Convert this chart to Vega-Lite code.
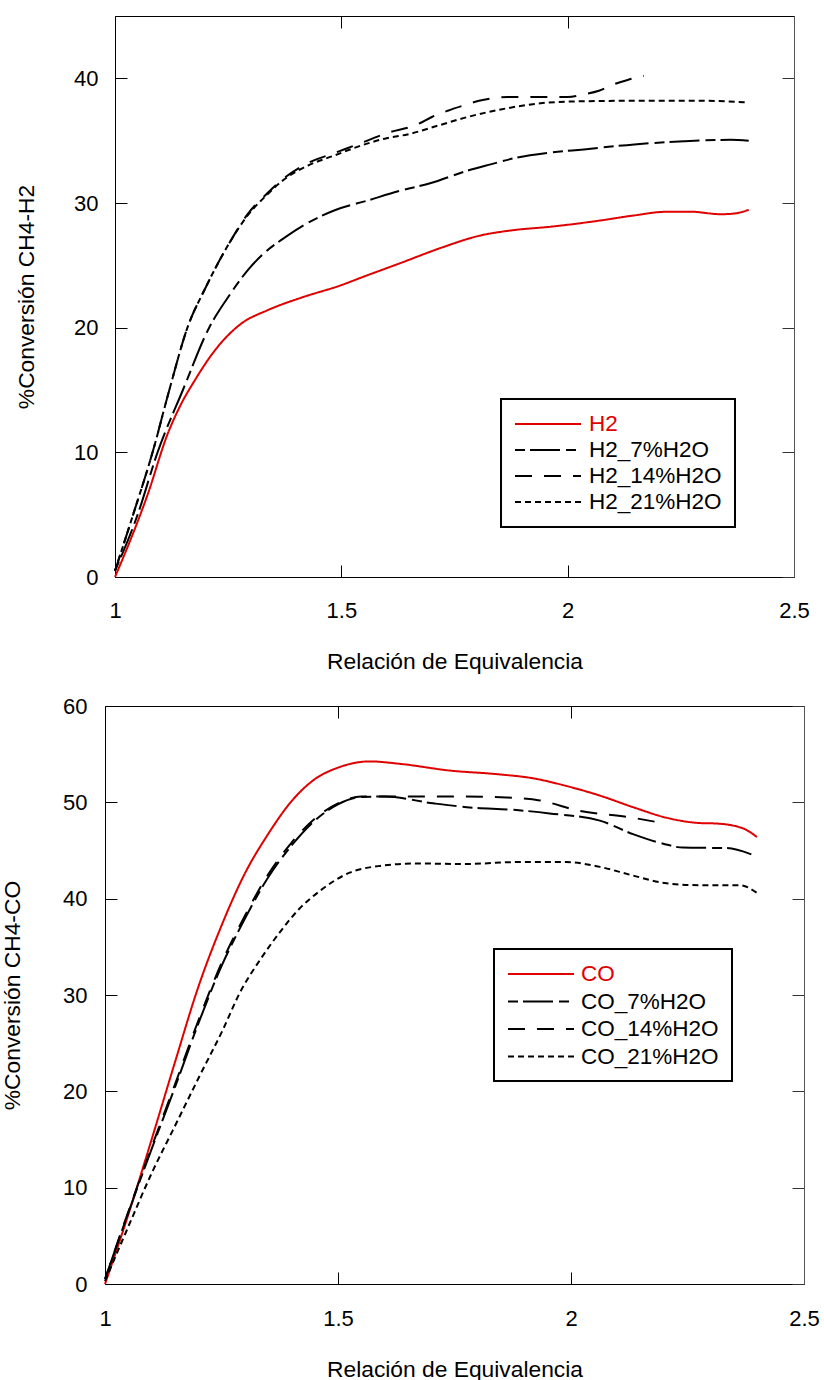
{
  "$schema": "https://vega.github.io/schema/vega-lite/v6.json",
  "padding": {"left": 1, "top": 15, "right": 5, "bottom": 0},
  "config": {
    "font": "Liberation Sans",
    "view": {"stroke": null},
    "axis": {
      "grid": false,
      "domainColor": "#000",
      "tickColor": "#000",
      "labelColor": "#000",
      "titleColor": "#000",
      "titleFontWeight": "normal",
      "labelFontSize": 22,
      "titleFontSize": 22.8,
      "tickSize": -12,
      "labelFont": "Liberation Sans",
      "titleFont": "Liberation Sans"
    },
    "legend": {"labelFont": "Liberation Sans"}
  },
  "bounds": "flush",
  "center": true,
  "spacing": 129,
  "resolve": {
    "scale": {"color": "independent", "strokeDash": "independent"},
    "legend": {"color": "independent", "strokeDash": "independent"}
  },
  "datasets": {
    "top": [
      {"x": 1, "y": 0, "serie": "H2"},
      {"x": 1.03, "y": 2.6, "serie": "H2"},
      {"x": 1.072, "y": 6.6, "serie": "H2"},
      {"x": 1.116, "y": 11.45, "serie": "H2"},
      {"x": 1.145, "y": 13.8, "serie": "H2"},
      {"x": 1.175, "y": 15.7, "serie": "H2"},
      {"x": 1.219, "y": 18.1, "serie": "H2"},
      {"x": 1.25, "y": 19.4, "serie": "H2"},
      {"x": 1.278, "y": 20.3, "serie": "H2"},
      {"x": 1.337, "y": 21.4, "serie": "H2"},
      {"x": 1.411, "y": 22.4, "serie": "H2"},
      {"x": 1.499, "y": 23.4, "serie": "H2"},
      {"x": 1.55, "y": 24.1, "serie": "H2"},
      {"x": 1.632, "y": 25.2, "serie": "H2"},
      {"x": 1.72, "y": 26.4, "serie": "H2"},
      {"x": 1.808, "y": 27.4, "serie": "H2"},
      {"x": 1.875, "y": 27.8, "serie": "H2"},
      {"x": 1.963, "y": 28.1, "serie": "H2"},
      {"x": 2.073, "y": 28.6, "serie": "H2"},
      {"x": 2.146, "y": 29.0, "serie": "H2"},
      {"x": 2.22, "y": 29.3, "serie": "H2"},
      {"x": 2.272, "y": 29.3, "serie": "H2"},
      {"x": 2.338, "y": 29.1, "serie": "H2"},
      {"x": 2.367, "y": 29.15, "serie": "H2"},
      {"x": 2.4, "y": 29.45, "serie": "H2"},

      {"x": 1, "y": 0.5, "serie": "H2_7%H2O"},
      {"x": 1.05, "y": 5, "serie": "H2_7%H2O"},
      {"x": 1.094, "y": 10, "serie": "H2_7%H2O"},
      {"x": 1.15, "y": 15, "serie": "H2_7%H2O"},
      {"x": 1.208, "y": 20, "serie": "H2_7%H2O"},
      {"x": 1.249, "y": 22.4, "serie": "H2_7%H2O"},
      {"x": 1.293, "y": 24.6, "serie": "H2_7%H2O"},
      {"x": 1.33, "y": 26.0, "serie": "H2_7%H2O"},
      {"x": 1.374, "y": 27.2, "serie": "H2_7%H2O"},
      {"x": 1.426, "y": 28.4, "serie": "H2_7%H2O"},
      {"x": 1.484, "y": 29.4, "serie": "H2_7%H2O"},
      {"x": 1.558, "y": 30.2, "serie": "H2_7%H2O"},
      {"x": 1.632, "y": 31.0, "serie": "H2_7%H2O"},
      {"x": 1.698, "y": 31.6, "serie": "H2_7%H2O"},
      {"x": 1.779, "y": 32.6, "serie": "H2_7%H2O"},
      {"x": 1.83, "y": 33.1, "serie": "H2_7%H2O"},
      {"x": 1.889, "y": 33.65, "serie": "H2_7%H2O"},
      {"x": 1.963, "y": 34.05, "serie": "H2_7%H2O"},
      {"x": 2.036, "y": 34.3, "serie": "H2_7%H2O"},
      {"x": 2.147, "y": 34.7, "serie": "H2_7%H2O"},
      {"x": 2.257, "y": 34.95, "serie": "H2_7%H2O"},
      {"x": 2.36, "y": 35.07, "serie": "H2_7%H2O"},
      {"x": 2.4, "y": 35.0, "serie": "H2_7%H2O"},

      {"x": 1, "y": 0.5, "serie": "H2_14%H2O"},
      {"x": 1.04, "y": 5, "serie": "H2_14%H2O"},
      {"x": 1.083, "y": 10, "serie": "H2_14%H2O"},
      {"x": 1.12, "y": 15, "serie": "H2_14%H2O"},
      {"x": 1.16, "y": 20, "serie": "H2_14%H2O"},
      {"x": 1.2, "y": 23.2, "serie": "H2_14%H2O"},
      {"x": 1.234, "y": 25.6, "serie": "H2_14%H2O"},
      {"x": 1.256, "y": 27.0, "serie": "H2_14%H2O"},
      {"x": 1.293, "y": 29.1, "serie": "H2_14%H2O"},
      {"x": 1.337, "y": 30.8, "serie": "H2_14%H2O"},
      {"x": 1.367, "y": 31.8, "serie": "H2_14%H2O"},
      {"x": 1.426, "y": 33.2, "serie": "H2_14%H2O"},
      {"x": 1.484, "y": 34.0, "serie": "H2_14%H2O"},
      {"x": 1.543, "y": 34.8, "serie": "H2_14%H2O"},
      {"x": 1.6, "y": 35.6, "serie": "H2_14%H2O"},
      {"x": 1.668, "y": 36.3, "serie": "H2_14%H2O"},
      {"x": 1.7, "y": 36.9, "serie": "H2_14%H2O"},
      {"x": 1.735, "y": 37.4, "serie": "H2_14%H2O"},
      {"x": 1.768, "y": 37.8, "serie": "H2_14%H2O"},
      {"x": 1.804, "y": 38.2, "serie": "H2_14%H2O"},
      {"x": 1.834, "y": 38.4, "serie": "H2_14%H2O"},
      {"x": 1.867, "y": 38.5, "serie": "H2_14%H2O"},
      {"x": 1.934, "y": 38.5, "serie": "H2_14%H2O"},
      {"x": 2.0, "y": 38.5, "serie": "H2_14%H2O"},
      {"x": 2.033, "y": 38.7, "serie": "H2_14%H2O"},
      {"x": 2.069, "y": 39.0, "serie": "H2_14%H2O"},
      {"x": 2.1, "y": 39.5, "serie": "H2_14%H2O"},
      {"x": 2.135, "y": 39.9, "serie": "H2_14%H2O"},
      {"x": 2.168, "y": 40.2, "serie": "H2_14%H2O"},

      {"x": 1, "y": 0.5, "serie": "H2_21%H2O"},
      {"x": 1.04, "y": 5, "serie": "H2_21%H2O"},
      {"x": 1.083, "y": 10, "serie": "H2_21%H2O"},
      {"x": 1.12, "y": 15, "serie": "H2_21%H2O"},
      {"x": 1.16, "y": 20, "serie": "H2_21%H2O"},
      {"x": 1.2, "y": 23.2, "serie": "H2_21%H2O"},
      {"x": 1.234, "y": 25.6, "serie": "H2_21%H2O"},
      {"x": 1.256, "y": 27.0, "serie": "H2_21%H2O"},
      {"x": 1.293, "y": 29.0, "serie": "H2_21%H2O"},
      {"x": 1.337, "y": 30.7, "serie": "H2_21%H2O"},
      {"x": 1.367, "y": 31.7, "serie": "H2_21%H2O"},
      {"x": 1.426, "y": 33.0, "serie": "H2_21%H2O"},
      {"x": 1.484, "y": 33.8, "serie": "H2_21%H2O"},
      {"x": 1.543, "y": 34.6, "serie": "H2_21%H2O"},
      {"x": 1.6, "y": 35.2, "serie": "H2_21%H2O"},
      {"x": 1.646, "y": 35.5, "serie": "H2_21%H2O"},
      {"x": 1.713, "y": 36.2, "serie": "H2_21%H2O"},
      {"x": 1.779, "y": 36.9, "serie": "H2_21%H2O"},
      {"x": 1.852, "y": 37.5, "serie": "H2_21%H2O"},
      {"x": 1.94, "y": 38.0, "serie": "H2_21%H2O"},
      {"x": 2.014, "y": 38.15, "serie": "H2_21%H2O"},
      {"x": 2.146, "y": 38.2, "serie": "H2_21%H2O"},
      {"x": 2.294, "y": 38.2, "serie": "H2_21%H2O"},
      {"x": 2.397, "y": 38.07, "serie": "H2_21%H2O"}
    ],
    "bottom": [
      {"x": 1, "y": 0, "serie": "CO"},
      {"x": 1.05, "y": 7.2, "serie": "CO"},
      {"x": 1.1, "y": 15.0, "serie": "CO"},
      {"x": 1.15, "y": 23.0, "serie": "CO"},
      {"x": 1.2, "y": 30.8, "serie": "CO"},
      {"x": 1.25, "y": 37.2, "serie": "CO"},
      {"x": 1.3, "y": 42.6, "serie": "CO"},
      {"x": 1.35, "y": 46.7, "serie": "CO"},
      {"x": 1.4, "y": 50.1, "serie": "CO"},
      {"x": 1.45, "y": 52.4, "serie": "CO"},
      {"x": 1.5, "y": 53.6, "serie": "CO"},
      {"x": 1.568, "y": 54.25, "serie": "CO"},
      {"x": 1.632, "y": 54.0, "serie": "CO"},
      {"x": 1.74, "y": 53.3, "serie": "CO"},
      {"x": 1.847, "y": 52.9, "serie": "CO"},
      {"x": 1.918, "y": 52.5, "serie": "CO"},
      {"x": 1.99, "y": 51.7, "serie": "CO"},
      {"x": 2.062, "y": 50.7, "serie": "CO"},
      {"x": 2.133, "y": 49.5, "serie": "CO"},
      {"x": 2.205, "y": 48.4, "serie": "CO"},
      {"x": 2.276, "y": 47.85, "serie": "CO"},
      {"x": 2.312, "y": 47.8, "serie": "CO"},
      {"x": 2.369, "y": 47.3, "serie": "CO"},
      {"x": 2.399, "y": 46.4, "serie": "CO"},

      {"x": 1, "y": 0.5, "serie": "CO_7%H2O"},
      {"x": 1.05, "y": 7.4, "serie": "CO_7%H2O"},
      {"x": 1.1, "y": 14.0, "serie": "CO_7%H2O"},
      {"x": 1.15, "y": 20.4, "serie": "CO_7%H2O"},
      {"x": 1.2, "y": 27.0, "serie": "CO_7%H2O"},
      {"x": 1.25, "y": 33.0, "serie": "CO_7%H2O"},
      {"x": 1.3, "y": 37.9, "serie": "CO_7%H2O"},
      {"x": 1.35, "y": 42.2, "serie": "CO_7%H2O"},
      {"x": 1.4, "y": 45.5, "serie": "CO_7%H2O"},
      {"x": 1.45, "y": 48.1, "serie": "CO_7%H2O"},
      {"x": 1.5, "y": 49.8, "serie": "CO_7%H2O"},
      {"x": 1.55, "y": 50.55, "serie": "CO_7%H2O"},
      {"x": 1.6, "y": 50.6, "serie": "CO_7%H2O"},
      {"x": 1.704, "y": 49.9, "serie": "CO_7%H2O"},
      {"x": 1.776, "y": 49.5, "serie": "CO_7%H2O"},
      {"x": 1.883, "y": 49.2, "serie": "CO_7%H2O"},
      {"x": 1.954, "y": 48.85, "serie": "CO_7%H2O"},
      {"x": 2.062, "y": 48.1, "serie": "CO_7%H2O"},
      {"x": 2.133, "y": 46.7, "serie": "CO_7%H2O"},
      {"x": 2.198, "y": 45.7, "serie": "CO_7%H2O"},
      {"x": 2.24, "y": 45.3, "serie": "CO_7%H2O"},
      {"x": 2.333, "y": 45.25, "serie": "CO_7%H2O"},
      {"x": 2.387, "y": 44.6, "serie": "CO_7%H2O"},

      {"x": 1, "y": 0.5, "serie": "CO_14%H2O"},
      {"x": 1.05, "y": 7.5, "serie": "CO_14%H2O"},
      {"x": 1.1, "y": 14.2, "serie": "CO_14%H2O"},
      {"x": 1.15, "y": 20.7, "serie": "CO_14%H2O"},
      {"x": 1.2, "y": 27.3, "serie": "CO_14%H2O"},
      {"x": 1.25, "y": 33.3, "serie": "CO_14%H2O"},
      {"x": 1.3, "y": 38.2, "serie": "CO_14%H2O"},
      {"x": 1.35, "y": 42.5, "serie": "CO_14%H2O"},
      {"x": 1.4, "y": 45.8, "serie": "CO_14%H2O"},
      {"x": 1.45, "y": 48.3, "serie": "CO_14%H2O"},
      {"x": 1.5, "y": 49.9, "serie": "CO_14%H2O"},
      {"x": 1.55, "y": 50.6, "serie": "CO_14%H2O"},
      {"x": 1.632, "y": 50.6, "serie": "CO_14%H2O"},
      {"x": 1.775, "y": 50.6, "serie": "CO_14%H2O"},
      {"x": 1.861, "y": 50.5, "serie": "CO_14%H2O"},
      {"x": 1.933, "y": 50.2, "serie": "CO_14%H2O"},
      {"x": 2.019, "y": 49.1, "serie": "CO_14%H2O"},
      {"x": 2.119, "y": 48.5, "serie": "CO_14%H2O"},
      {"x": 2.201, "y": 47.8, "serie": "CO_14%H2O"},

      {"x": 1, "y": 0.3, "serie": "CO_21%H2O"},
      {"x": 1.046, "y": 5.5, "serie": "CO_21%H2O"},
      {"x": 1.103, "y": 11.8, "serie": "CO_21%H2O"},
      {"x": 1.146, "y": 16.0, "serie": "CO_21%H2O"},
      {"x": 1.203, "y": 21.6, "serie": "CO_21%H2O"},
      {"x": 1.253, "y": 26.4, "serie": "CO_21%H2O"},
      {"x": 1.289, "y": 30.2, "serie": "CO_21%H2O"},
      {"x": 1.332, "y": 33.6, "serie": "CO_21%H2O"},
      {"x": 1.375, "y": 36.5, "serie": "CO_21%H2O"},
      {"x": 1.418, "y": 39.0, "serie": "CO_21%H2O"},
      {"x": 1.461, "y": 40.8, "serie": "CO_21%H2O"},
      {"x": 1.525, "y": 42.7, "serie": "CO_21%H2O"},
      {"x": 1.59, "y": 43.4, "serie": "CO_21%H2O"},
      {"x": 1.668, "y": 43.65, "serie": "CO_21%H2O"},
      {"x": 1.775, "y": 43.6, "serie": "CO_21%H2O"},
      {"x": 1.883, "y": 43.8, "serie": "CO_21%H2O"},
      {"x": 1.99, "y": 43.8, "serie": "CO_21%H2O"},
      {"x": 2.062, "y": 43.3, "serie": "CO_21%H2O"},
      {"x": 2.133, "y": 42.4, "serie": "CO_21%H2O"},
      {"x": 2.205, "y": 41.6, "serie": "CO_21%H2O"},
      {"x": 2.276, "y": 41.4, "serie": "CO_21%H2O"},
      {"x": 2.362, "y": 41.4, "serie": "CO_21%H2O"},
      {"x": 2.399, "y": 40.6, "serie": "CO_21%H2O"}
    ]
  },
  "vconcat": [
    {
      "width": 679,
      "height": 561,
      "data": {"name": "top"},
      "resolve": {"axis": {"x": "independent", "y": "independent"}},
      "layer": [
        {
          "mark": {"type": "line", "strokeWidth": 2, "interpolate": "monotone"},
          "encoding": {
            "x": {
              "field": "x", "type": "quantitative",
              "scale": {"domain": [1, 2.5], "nice": false, "zero": false},
              "axis": {
                "title": "Relación de Equivalencia",
                "values": [1, 1.5, 2, 2.5], "format": "~g",
                "labelFlush": false, "labelPadding": 45, "labelBaseline": "middle",
                "titleY": 84, "titleBaseline": "middle"
              }
            },
            "y": {
              "field": "y", "type": "quantitative",
              "scale": {"domain": [0, 45], "nice": false},
              "axis": {
                "title": "%Conversión CH4-H2",
                "values": [0, 10, 20, 30, 40],
                "labelPadding": 29,
                "titleX": -89, "titleY": 280.5, "titleBaseline": "middle", "titleAlign": "center"
              }
            },
            "color": {
              "field": "serie", "type": "nominal",
              "scale": {"domain": ["H2", "H2_7%H2O", "H2_14%H2O", "H2_21%H2O"], "range": ["#e00000", "#000000", "#000000", "#000000"]},
              "legend": {
                "title": null, "orient": "none", "legendX": 386, "legendY": 383,
                "strokeColor": "#000", "padding": 13, "labelFontSize": 22.5,
                "symbolType": "M-1,0H5", "symbolSize": 484, "symbolStrokeWidth": 2,
                "rowPadding": 2, "labelOffset": 51,
                "encode": {
                  "labels": {"update": {"fill": {"signal": "datum.value === 'H2' ? '#e00000' : '#000000'"}}},
                  "legend": {"update": {"strokeWidth": {"value": 2}}}
                }
              }
            },
            "strokeDash": {
              "field": "serie", "type": "nominal",
              "scale": {"domain": ["H2", "H2_7%H2O", "H2_14%H2O", "H2_21%H2O"], "range": [[1, 0], [10, 5, 30, 6], [17, 12], [6, 4]]}
            }
          }
        },
        {
          "mark": {"type": "point", "opacity": 0},
          "encoding": {
            "x": {"field": "x", "type": "quantitative", "axis": {"orient": "top", "labels": false, "title": null, "values": [1, 1.5, 2, 2.5]}},
            "y": {"field": "y", "type": "quantitative", "axis": {"orient": "right", "labels": false, "title": null, "values": [0, 10, 20, 30, 40], "domainColor": "#555", "tickColor": "#333"}}
          }
        }
      ]
    },
    {
      "width": 699,
      "height": 578,
      "data": {"name": "bottom"},
      "resolve": {"axis": {"x": "independent", "y": "independent"}},
      "layer": [
        {
          "mark": {"type": "line", "strokeWidth": 2, "interpolate": "monotone"},
          "encoding": {
            "x": {
              "field": "x", "type": "quantitative",
              "scale": {"domain": [1, 2.5], "nice": false, "zero": false},
              "axis": {
                "title": "Relación de Equivalencia",
                "values": [1, 1.5, 2, 2.5], "format": "~g",
                "labelFlush": false, "labelPadding": 46, "labelBaseline": "middle",
                "titleY": 85, "titleBaseline": "middle"
              }
            },
            "y": {
              "field": "y", "type": "quantitative",
              "scale": {"domain": [0, 60], "nice": false},
              "axis": {
                "title": "%Conversión CH4-CO",
                "values": [0, 10, 20, 30, 40, 50, 60],
                "labelPadding": 30,
                "titleX": -93, "titleY": 289, "titleBaseline": "middle", "titleAlign": "center"
              }
            },
            "color": {
              "field": "serie", "type": "nominal",
              "scale": {"domain": ["CO", "CO_7%H2O", "CO_14%H2O", "CO_21%H2O"], "range": ["#e00000", "#000000", "#000000", "#000000"]},
              "legend": {
                "title": null, "orient": "none", "legendX": 389, "legendY": 243,
                "strokeColor": "#000", "padding": 13, "labelFontSize": 22.5,
                "symbolType": "M-1,0H5", "symbolSize": 484, "symbolStrokeWidth": 2,
                "rowPadding": 3.5, "labelOffset": 50,
                "encode": {
                  "labels": {"update": {"fill": {"signal": "datum.value === 'CO' ? '#e00000' : '#000000'"}}},
                  "legend": {"update": {"strokeWidth": {"value": 2}}}
                }
              }
            },
            "strokeDash": {
              "field": "serie", "type": "nominal",
              "scale": {"domain": ["CO", "CO_7%H2O", "CO_14%H2O", "CO_21%H2O"], "range": [[1, 0], [10, 5, 30, 6], [17, 12], [6, 4]]}
            }
          }
        },
        {
          "mark": {"type": "point", "opacity": 0},
          "encoding": {
            "x": {"field": "x", "type": "quantitative", "axis": {"orient": "top", "labels": false, "title": null, "values": [1, 1.5, 2, 2.5]}},
            "y": {"field": "y", "type": "quantitative", "axis": {"orient": "right", "labels": false, "title": null, "values": [0, 10, 20, 30, 40, 50, 60], "domainColor": "#555", "tickColor": "#333"}}
          }
        }
      ]
    }
  ]
}
